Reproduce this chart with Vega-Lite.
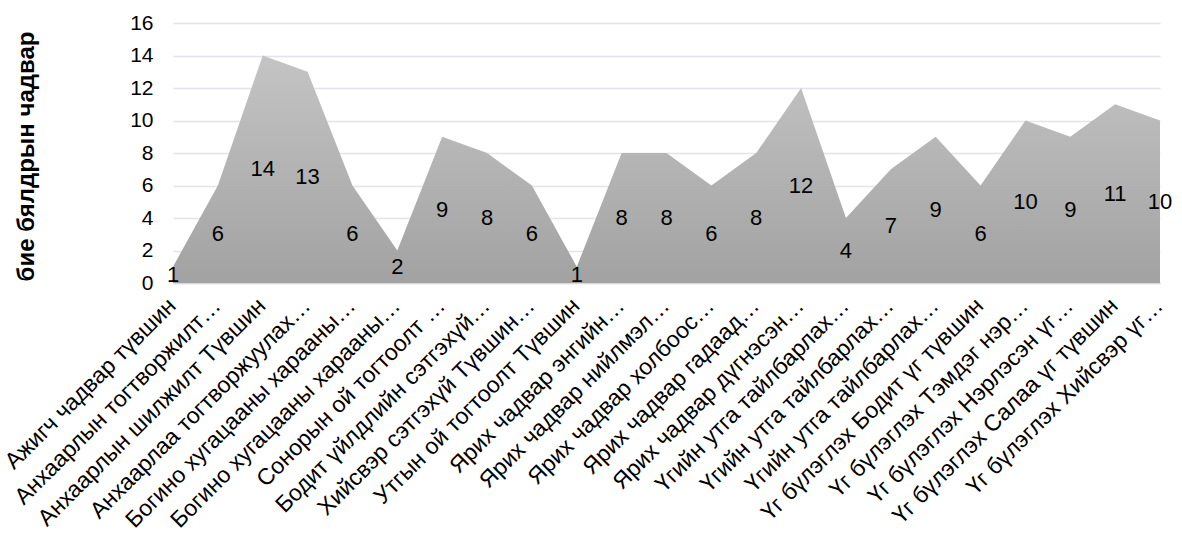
{
  "$schema": "https://vega.github.io/schema/vega-lite/v6.json",
  "width": 987,
  "height": 260,
  "autosize": {"type": "none"},
  "padding": {"left": 173, "top": 23, "right": 22, "bottom": 259},
  "background": "white",
  "config": {"font": "Liberation Sans", "view": {"stroke": null}},
  "data": {
    "values": [
      {"skill": "Ажигч чадвар түвшин", "score": 1},
      {"skill": "Анхаарлын тогтворжилт…", "score": 6},
      {"skill": "Анхаарлын шилжилт Түвшин", "score": 14},
      {"skill": "Анхаарлаа тогтворжуулах…", "score": 13},
      {"skill": "Богино хугацааны харааны…", "score": 6},
      {"skill": "Богино хугацааны харааны…\u200b", "score": 2},
      {"skill": "Сонорын ой тогтоолт …", "score": 9},
      {"skill": "Бодит үйлдлийн сэтгэхүй…", "score": 8},
      {"skill": "Хийсвэр сэтгэхүй Түвшин…", "score": 6},
      {"skill": "Утгын ой тогтоолт  Түвшин", "score": 1},
      {"skill": "Ярих чадвар энгийн…", "score": 8},
      {"skill": "Ярих чадвар нийлмэл…", "score": 8},
      {"skill": "Ярих чадвар холбоос…", "score": 6},
      {"skill": "Ярих чадвар гадаад…", "score": 8},
      {"skill": "Ярих чадвар дүгнэсэн…", "score": 12},
      {"skill": "Үгийн утга тайлбарлах…", "score": 4},
      {"skill": "Үгийн утга тайлбарлах…\u200b", "score": 7},
      {"skill": "Үгийн утга тайлбарлах…\u200b\u200b", "score": 9},
      {"skill": "Үг бүлэглэх Бодит үг түвшин", "score": 6},
      {"skill": "Үг бүлэглэх Тэмдэг нэр…", "score": 10},
      {"skill": "Үг бүлэглэх Нэрлэсэн үг…", "score": 9},
      {"skill": "Үг бүлэглэх Салаа үг түвшин", "score": 11},
      {"skill": "Үг бүлэглэх Хийсвэр үг…", "score": 10}
    ]
  },
  "encoding": {
    "x": {
      "field": "skill",
      "type": "ordinal",
      "sort": null,
      "scale": {"type": "point", "padding": 0},
      "axis": {
        "title": null,
        "labelAngle": -45,
        "labelFontSize": 23,
        "labelColor": "#000000",
        "labelPadding": 11,
        "labelOffset": -9,
        "labelLimit": 0,
        "ticks": false,
        "domain": true,
        "domainColor": "#d9d9d9",
        "domainWidth": 1.5,
        "grid": false
      }
    }
  },
  "layer": [
    {
      "mark": {
        "type": "area",
        "color": {
          "gradient": "linear",
          "x1": 0, "y1": 0, "x2": 0, "y2": 1,
          "stops": [
            {"offset": 0, "color": "#c4c4c4"},
            {"offset": 1, "color": "#a2a2a2"}
          ]
        }
      },
      "encoding": {
        "y": {
          "field": "score",
          "type": "quantitative",
          "scale": {"domain": [0, 16], "nice": false},
          "axis": {
            "values": [0, 2, 4, 6, 8, 10, 12, 14, 16],
            "labelFontSize": 21,
            "labelColor": "#000000",
            "labelPadding": 20,
            "domain": false,
            "ticks": false,
            "grid": true,
            "gridColor": "#e1e4eb",
            "gridWidth": 1.5,
            "title": "бие бялдрын чадвар",
            "titleFontSize": 24,
            "titleFontWeight": "bold",
            "titleColor": "#000000",
            "titleAngle": -90,
            "titleX": -147,
            "titleY": 133,
            "titleAlign": "center",
            "titleBaseline": "middle"
          }
        }
      }
    },
    {
      "mark": {"type": "text", "fontSize": 22, "color": "#000000", "baseline": "middle", "align": "center"},
      "encoding": {
        "y": {
          "field": "score",
          "type": "quantitative",
          "scale": {"domain": [0, 32], "nice": false},
          "axis": null
        },
        "text": {"field": "score", "type": "quantitative"}
      }
    }
  ],
  "resolve": {"scale": {"y": "independent"}}
}
